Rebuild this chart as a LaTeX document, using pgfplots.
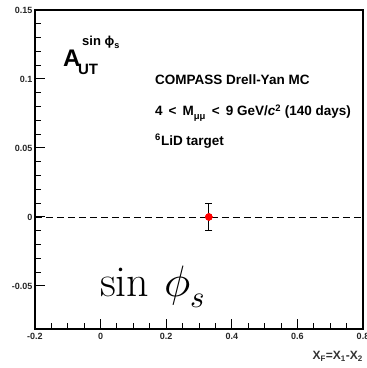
\documentclass[border=0pt]{standalone}
\usepackage{fontspec}
\usepackage{unicode-math}
\setmathfont{Latin Modern Math}
\setsansfont{Liberation Sans}
\usepackage{pgfplots}
\pgfplotsset{compat=1.18}
\begin{document}
\begin{tikzpicture}
\begin{axis}[
 scale only axis, width=328pt, height=319pt,
 xmin=-0.2, xmax=0.8, ymin=-0.0812, ymax=0.15,
 axis line style={line width=1.3pt},
 tick pos=left, tick align=inside,
 xtick={-0.2,0,0.2,0.4,0.6,0.8}, xticklabels={-0.2,0,0.2,0.4,0.6,0.8},
 ytick={-0.05,0,0.05,0.1,0.15}, yticklabels={-0.05,0,0.05,0.1,0.15},
 minor x tick num=3, minor y tick num=4,
 major tick length=10pt, minor tick length=6pt,
 tick style={line width=1pt, black},
 ticklabel style={font=\sffamily\bfseries\fontsize{9}{9}\selectfont, text=black!85},
 xticklabel style={yshift=-1pt},
 yticklabel style={xshift=1pt},
 clip=false,
]
\addplot[black, line width=0.9pt, dash pattern=on 7pt off 4pt] coordinates {(-0.2,0) (0.8,0)};
\addplot[only marks, mark=*, mark size=3.5pt, color=red,
  error bars/.cd, y dir=both, y explicit,
  error bar style={black, line width=0.9pt},
  error mark options={black, line width=0.9pt, mark size=3.5pt, rotate=90}]
  coordinates {(0.33,0) +- (0,0.0095)};
\addplot[only marks, mark=*, mark size=3.5pt, color=red] coordinates {(0.33,0)};
% labels
\node[anchor=base west, inner sep=0pt, font=\sffamily\bfseries\fontsize{24}{24}\selectfont] at (axis cs:-0.1146,0.1087) {A};
\node[anchor=base west, inner sep=0pt, font=\sffamily\bfseries\fontsize{15}{15}\selectfont] at (axis cs:-0.069,0.1036) {UT};
\node[anchor=base west, inner sep=0pt, font=\sffamily\bfseries\fontsize{13}{13}\selectfont] at (axis cs:-0.0567,0.1243) {sin ϕ\textsubscript{s}};
\node[anchor=base west, inner sep=0pt, font=\sffamily\bfseries\fontsize{13.5}{13.5}\selectfont] at (axis cs:0.166,0.0957) {COMPASS Drell-Yan MC};
\node[anchor=base west, inner sep=0pt, font=\sffamily\bfseries\fontsize{13.5}{13.5}\selectfont] at (axis cs:0.166,0.0732) {4 \,<\, M\textsubscript{μμ} \,<\, 9 GeV/\textit{c}\textsuperscript{2} (140 days)};
\node[anchor=base west, inner sep=0pt, font=\sffamily\bfseries\fontsize{13.5}{13.5}\selectfont] at (axis cs:0.166,0.0521) {\textsuperscript{6}LiD target};
\node[anchor=base west, inner sep=0pt, font=\fontsize{44}{44}\selectfont] at (axis cs:-0.002,-0.058) {$\sin\,\phi_{s}$};
\node[anchor=base east, inner sep=0pt, text=black!80, font=\sffamily\bfseries\fontsize{12}{12}\selectfont] at ([yshift=-30pt]rel axis cs:1,0) {X\textsubscript{F}=X\textsubscript{1}-X\textsubscript{2}};
\end{axis}
\pgfresetboundingbox
\useasboundingbox ([xshift=-35pt,yshift=-39pt]current axis.south west) rectangle ([xshift=3pt,yshift=10pt]current axis.north east);
\end{tikzpicture}
\end{document}
